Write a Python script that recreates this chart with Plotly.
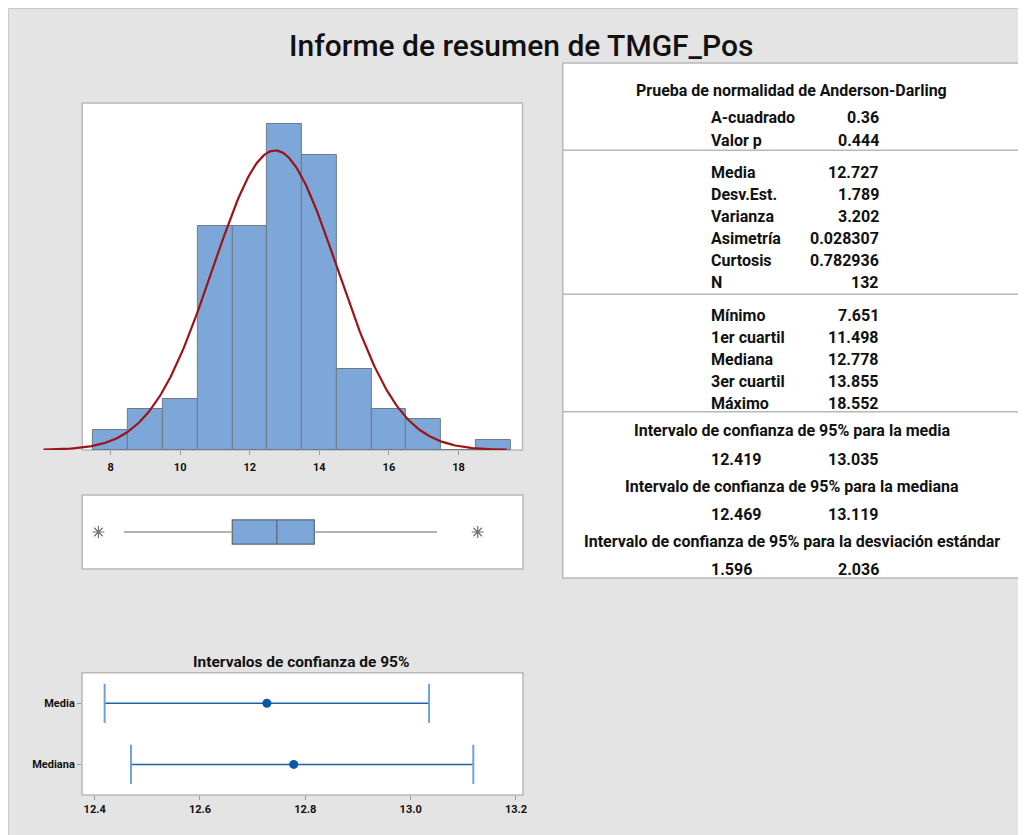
import numpy as np
import plotly.graph_objects as go

# ---------------- data ----------------
bin_left = [7.5, 8.5, 9.5, 10.5, 11.5, 12.5, 13.5, 14.5, 15.5, 16.5, 17.5, 18.5]
bin_width = 1.0
counts = [2, 4, 5, 22, 22, 32, 29, 8, 4, 3, 0, 1]

n_obs = 132
mean_val = 12.727
sd_val = 1.789

box_q1 = 11.498
box_median = 12.778
box_q3 = 13.855
whisker_low = 8.38
whisker_high = 17.38
outliers = [7.651, 18.552]

ci_labels = ["Media", "Mediana"]
ci_center = [12.727, 12.778]
ci_low = [12.419, 12.469]
ci_high = [13.035, 13.119]

hist_ticks = [8, 10, 12, 14, 16, 18]
ci_ticks = [12.4, 12.6, 12.8, 13.0, 13.2]
ci_ticktext = ["12.4", "12.6", "12.8", "13.0", "13.2"]

title_text = "Informe de resumen de TMGF_Pos"
ci_title = "Intervalos de confianza de 95%"

ad_header = "Prueba de normalidad de Anderson-Darling"
ad_rows = [("A-cuadrado", "0.36"), ("Valor p", "0.444")]
desc_rows = [("Media", "12.727"), ("Desv.Est.", "1.789"), ("Varianza", "3.202"),
             ("Asimetría", "0.028307"), ("Curtosis", "0.782936"), ("N", "132")]
quart_rows = [("Mínimo", "7.651"), ("1er cuartil", "11.498"), ("Mediana", "12.778"),
              ("3er cuartil", "13.855"), ("Máximo", "18.552")]
ci_blocks = [("Intervalo de confianza de 95% para la media", "12.419", "13.035"),
             ("Intervalo de confianza de 95% para la mediana", "12.469", "13.119"),
             ("Intervalo de confianza de 95% para la desviación estándar", "1.596", "2.036")]

# ---------------- helpers ----------------
# the page body has an 8px margin, so the figure starts at (8, 8) in the window
OFF = 8
W, H = 1026 - OFF, 835 - OFF
def fx(px):
    return (px - OFF) / W
def fy(py):
    return 1 - (py - OFF) / H

FONT = "Roboto, Arial, sans-serif"
NARROW = "Liberation Sans Narrow, Roboto, Arial, sans-serif"
BG = "#E4E4E4"
FRAME = "#B8B8B8"
BAR_FILL = "#7DA7D9"
BAR_LINE = "#6E7A86"
CURVE = "#9B1418"
CI_BLUE = "#1F5FAE"

fig = go.Figure()

# histogram
centers = [b + bin_width / 2 for b in bin_left]
fig.add_trace(go.Bar(x=centers, y=counts, width=bin_width,
                     marker=dict(color=BAR_FILL, line=dict(color=BAR_LINE, width=1)),
                     xaxis="x", yaxis="y", showlegend=False, hoverinfo="skip"))

# fitted normal curve (from the reported mean and standard deviation)
xs = np.linspace(mean_val - 3.72 * sd_val, mean_val + 3.72 * sd_val, 300)
ys = n_obs * bin_width / (sd_val * np.sqrt(2 * np.pi)) * np.exp(-0.5 * ((xs - mean_val) / sd_val) ** 2)
fig.add_trace(go.Scatter(x=xs, y=ys, mode="lines", line=dict(color=CURVE, width=2.2),
                         xaxis="x", yaxis="y", showlegend=False, hoverinfo="skip"))

# boxplot: whiskers
fig.add_trace(go.Scatter(x=[whisker_low, box_q1, None, box_q3, whisker_high], y=[0, 0, None, 0, 0],
                         mode="lines", line=dict(color="#9A9A9A", width=1.3),
                         xaxis="x2", yaxis="y2", showlegend=False, hoverinfo="skip"))
fig.add_trace(go.Box(y=[0], q1=[box_q1], median=[box_median], q3=[box_q3],
                     lowerfence=[box_q1], upperfence=[box_q3], orientation="h",
                     width=0.66, fillcolor=BAR_FILL, line=dict(color="#5F6A75", width=1.3),
                     whiskerwidth=0, boxpoints=False,
                     xaxis="x2", yaxis="y2", showlegend=False, hoverinfo="skip"))
fig.add_trace(go.Scatter(x=outliers, y=[0] * len(outliers), mode="markers",
                         marker=dict(symbol="asterisk-open", size=10, color="#707070",
                                     line=dict(color="#707070", width=1.2)),
                         xaxis="x2", yaxis="y2", showlegend=False, hoverinfo="skip"))

# confidence intervals
plus = [h - c for h, c in zip(ci_high, ci_center)]
minus = [c - l for c, l in zip(ci_center, ci_low)]
fig.add_trace(go.Scatter(x=ci_center, y=ci_labels, mode="markers",
                         marker=dict(color="#0B56A8", size=9),
                         error_x=dict(type="data", array=plus, arrayminus=minus,
                                      color=CI_BLUE, thickness=1.5, width=0),
                         xaxis="x3", yaxis="y3", showlegend=False, hoverinfo="skip"))
fig.add_trace(go.Scatter(x=ci_low + ci_high, y=ci_labels + ci_labels, mode="markers",
                         marker=dict(symbol="line-ns-open", size=28, color="#6FA2DC",
                                     line=dict(color="#6FA2DC", width=2)),
                         xaxis="x3", yaxis="y3", showlegend=False, hoverinfo="skip"))

shapes = []
# page background
shapes.append(dict(type="rect", xref="paper", yref="paper", x0=fx(8.5), x1=fx(1040), y0=fy(850), y1=fy(8.5),
                   fillcolor=BG, line=dict(color="#C9C9C9", width=1), layer="below"))
# panels
for (x0, x1, y0, y1) in [(82.5, 524.5, 103, 450), (82.5, 525, 495, 569), (82.3, 525, 672.7, 795),
                         (565, 1023, 63, 578)]:
    shapes.append(dict(type="rect", xref="paper", yref="paper", x0=fx(x0), x1=fx(x1),
                       y0=fy(y1), y1=fy(y0), fillcolor="white",
                       line=dict(color=FRAME, width=1.5), layer="below"))
# table separators
for py in [150.3, 294.3, 411.7]:
    shapes.append(dict(type="line", xref="paper", yref="paper", x0=fx(565), x1=fx(1023),
                       y0=fy(py), y1=fy(py), line=dict(color=FRAME, width=1.5), layer="below"))

ann = []
ann.append(dict(text=title_text, x=fx(523.5), y=fy(46), xref="paper", yref="paper",
                showarrow=False, xanchor="center", yanchor="middle",
                font=dict(family=FONT, size=30, color="#111111", weight=500)))
ann.append(dict(text="<b>" + ci_title + "</b>", x=fx(302), y=fy(661.5), xref="paper", yref="paper",
                showarrow=False, xanchor="center", yanchor="middle",
                font=dict(family=FONT, size=15.5, color="#111111")))

TF = dict(family=FONT, size=16, color="#111111")
def center_text(t, py):
    ann.append(dict(text="<b>" + t + "</b>", x=fx(795), y=fy(py), xref="paper", yref="paper",
                    showarrow=False, xanchor="center", yanchor="middle", font=TF))
def row(lbl, val, py):
    ann.append(dict(text="<b>" + lbl + "</b>", x=fx(711.5), y=fy(py), xref="paper", yref="paper",
                    showarrow=False, xanchor="left", yanchor="middle", font=TF))
    ann.append(dict(text="<b>" + val + "</b>", x=fx(884), y=fy(py), xref="paper", yref="paper",
                    showarrow=False, xanchor="right", yanchor="middle", font=TF))

center_text(ad_header, 90)
for (l, v), py in zip(ad_rows, [117.7, 140]):
    row(l, v, py)
for (l, v), py in zip(desc_rows, [172.3, 194.5, 216.5, 238.3, 260.3, 282.3]):
    row(l, v, py)
for (l, v), py in zip(quart_rows, [315, 337, 359, 381, 403]):
    row(l, v, py)
for (h, a, b), (ph, pv) in zip(ci_blocks, [(431, 459), (486.7, 514), (541.7, 569)]):
    center_text(h, ph)
    row(a, b, pv)

fig.update_layout(
    width=W, height=H, margin=dict(l=0, r=0, t=0, b=0),
    paper_bgcolor="white", plot_bgcolor="rgba(0,0,0,0)",
    shapes=shapes, annotations=ann, bargap=0,
    xaxis=dict(domain=[fx(40), fx(524)], range=[5.967, 19.824], tickvals=hist_ticks,
               ticktext=["<b>%d</b>" % t for t in hist_ticks],
               ticks="outside", ticklen=4, tickcolor="#9A9A9A", showgrid=False, zeroline=False,
               showline=False, tickfont=dict(family=NARROW, size=11, color="#111111"),
               ticklabelstandoff=3, anchor="y"),
    yaxis=dict(domain=[fy(450), fy(103)], range=[0, 34.1], visible=False),
    xaxis2=dict(domain=[fx(82.5), fx(525)], range=[7.184, 19.853], visible=False, anchor="y2"),
    yaxis2=dict(domain=[fy(569), fy(495)], range=[-1, 1], visible=False, anchor="x2"),
    xaxis3=dict(domain=[fx(82.3), fx(525)], range=[12.376, 13.2133], tickvals=ci_ticks,
                ticktext=["<b>" + t + "</b>" for t in ci_ticktext], ticks="outside", ticklen=4,
                tickcolor="#9A9A9A", showgrid=False, zeroline=False, showline=False,
                tickfont=dict(family=NARROW, size=11, color="#111111"), anchor="y3"),
    yaxis3=dict(domain=[fy(795), fy(672.7)], type="category", range=[1.5, -0.5],
                categoryorder="array", categoryarray=ci_labels,
                ticks="outside", ticklen=4, tickcolor="#9A9A9A", showgrid=False, zeroline=False,
                showline=False, tickfont=dict(family=FONT, size=11, color="#111111"),
                tickprefix="<b>", ticksuffix="</b>", anchor="x3"),
)

fig.write_html("out.html")
